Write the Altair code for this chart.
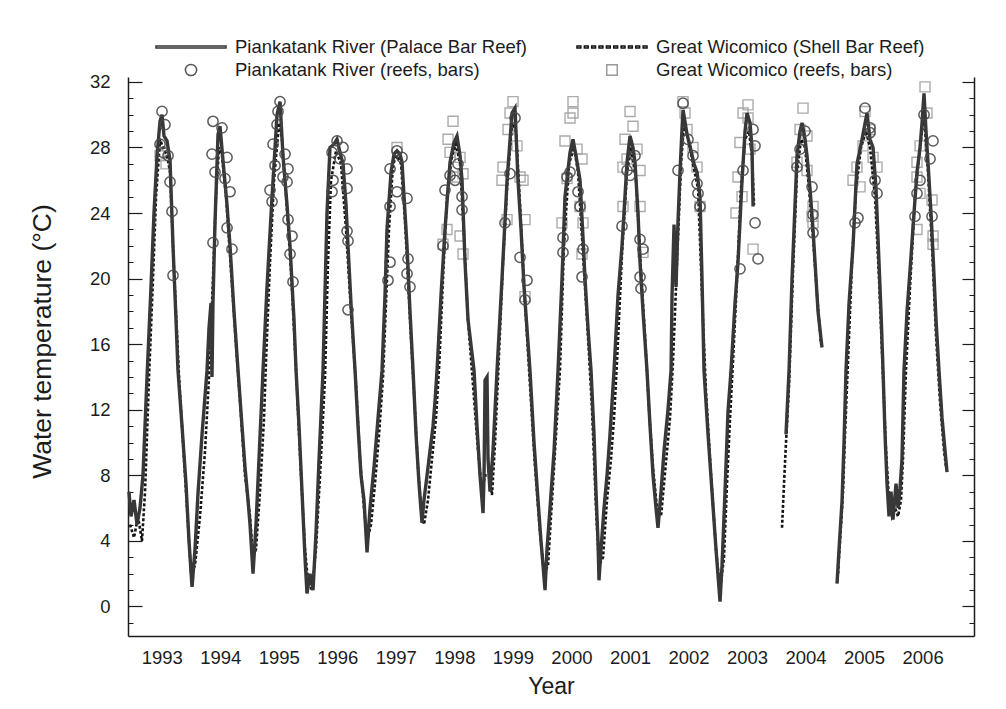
import altair as alt
import pandas as pd

FONT = "Liberation Sans"
W, H = 846, 559
X_DOMAIN = [1992.424, 2006.878]
Y_DOMAIN = [-1.8, 32.3]
YEARS = list(range(1993, 2007))
MAJOR = list(range(0, 33, 4))
MINOR = list(range(-1, 33))

# legend order (filled column by column: left column first)
KEYS = [
    "Piankatank River (Palace Bar Reef)",
    "Piankatank River (reefs, bars)",
    "Great Wicomico (Shell Bar Reef)",
    "Great Wicomico (reefs, bars)",
]

# Piankatank River (Palace Bar Reef) - continuous record, (decimal year, deg C)
PR_SEG_A = [
    (1992.441, 7.0), (1992.475, 5.5), (1992.527, 6.5), (1992.578, 5.0), (1992.629, 6.0), (1992.680, 8.0),
    (1992.749, 14.0), (1992.817, 19.5), (1992.868, 24.0), (1992.920, 27.5), (1992.971, 29.6), (1993.005, 30.0),
    (1993.039, 28.7), (1993.091, 28.4), (1993.142, 27.2), (1993.193, 22.0), (1993.244, 17.5), (1993.278, 14.4),
    (1993.347, 11.0), (1993.415, 7.5), (1993.466, 4.0), (1993.518, 1.2),
    (1993.569, 3.5), (1993.620, 6.9), (1993.689, 10.5), (1993.774, 14.4), (1993.808, 17.0), (1993.842, 18.5),
    (1993.859, 14.0), (1993.876, 18.5), (1993.911, 23.5), (1993.962, 28.8), (1993.996, 29.3), (1994.047, 27.2),
    (1994.116, 24.5), (1994.167, 22.0), (1994.235, 18.0), (1994.304, 14.4), (1994.372, 11.0), (1994.423, 8.5),
    (1994.474, 6.5), (1994.509, 5.0), (1994.560, 2.0),
    (1994.611, 5.0), (1994.662, 9.0), (1994.731, 14.4), (1994.799, 19.5), (1994.885, 25.0), (1994.970, 30.0),
    (1995.021, 30.8), (1995.072, 27.5), (1995.141, 24.5), (1995.192, 22.0), (1995.260, 17.5), (1995.295, 14.4),
    (1995.346, 11.0), (1995.397, 7.0), (1995.448, 3.0), (1995.482, 0.8),
    (1995.534, 2.0), (1995.585, 1.0), (1995.636, 4.5), (1995.688, 9.0), (1995.756, 14.4), (1995.824, 24.0),
    (1995.875, 28.0), (1995.944, 28.2), (1995.995, 28.5), (1996.046, 27.7), (1996.098, 27.0), (1996.149, 24.5),
    (1996.183, 22.0), (1996.234, 18.5), (1996.303, 14.4), (1996.354, 11.0), (1996.405, 8.0), (1996.456, 6.5),
    (1996.508, 3.3),
    (1996.559, 6.0), (1996.627, 8.5), (1996.696, 11.5), (1996.764, 14.4), (1996.815, 19.0), (1996.849, 23.0),
    (1996.918, 26.5), (1996.969, 27.6), (1997.020, 27.8), (1997.071, 27.6), (1997.106, 27.1), (1997.157, 24.0),
    (1997.191, 22.0), (1997.242, 18.0), (1997.294, 14.4), (1997.345, 10.5), (1997.396, 7.5), (1997.447, 5.1),
    (1997.481, 6.5), (1997.533, 8.0), (1997.584, 9.5), (1997.635, 11.0), (1997.669, 12.5), (1997.704, 14.4),
    (1997.772, 19.0), (1997.840, 23.0), (1997.926, 27.1), (1997.994, 28.3), (1998.045, 28.7), (1998.097, 27.5),
    (1998.131, 26.0), (1998.182, 21.0), (1998.233, 17.5), (1998.336, 14.4), (1998.387, 11.0), (1998.438, 8.0),
    (1998.490, 5.7),
    (1998.507, 8.0), (1998.524, 13.8), (1998.558, 14.0), (1998.575, 9.0), (1998.609, 7.0), (1998.660, 9.5),
    (1998.729, 14.4), (1998.814, 20.0), (1998.900, 26.0), (1998.985, 30.1), (1999.036, 30.4), (1999.087, 26.0),
    (1999.139, 23.0), (1999.190, 19.5), (1999.292, 14.4), (1999.361, 10.0), (1999.429, 6.5), (1999.480, 4.0),
    (1999.515, 2.5), (1999.549, 1.0),
    (1999.583, 3.5), (1999.634, 6.0), (1999.703, 9.5), (1999.771, 14.4), (1999.839, 20.0), (1999.890, 25.0),
    (1999.976, 27.7), (2000.027, 28.5), (2000.078, 27.5), (2000.147, 26.0), (2000.198, 22.5), (2000.232, 20.0),
    (2000.283, 17.0), (2000.335, 14.4), (2000.386, 10.5), (2000.420, 7.0), (2000.454, 4.0), (2000.471, 1.6),
    (2000.506, 3.5), (2000.557, 6.0), (2000.608, 8.0), (2000.659, 10.5), (2000.728, 14.4), (2000.796, 19.0),
    (2000.864, 22.0), (2000.950, 27.1), (2001.001, 28.7), (2001.052, 28.0), (2001.086, 27.1), (2001.138, 24.0),
    (2001.172, 21.0), (2001.223, 18.0), (2001.291, 14.4), (2001.343, 11.0), (2001.394, 8.0), (2001.445, 6.0),
    (2001.479, 4.8),
    (2001.531, 7.0), (2001.582, 9.5), (2001.650, 12.0), (2001.702, 14.4), (2001.719, 19.0), (2001.753, 23.3),
    (2001.787, 19.5), (2001.821, 23.5), (2001.855, 26.5), (2001.889, 29.1), (2001.907, 30.3), (2001.975, 28.8),
    (2002.026, 28.1), (2002.094, 27.0), (2002.146, 26.5), (2002.197, 25.0), (2002.231, 20.0), (2002.265, 14.4),
    (2002.334, 10.5), (2002.402, 7.0), (2002.470, 3.5), (2002.539, 0.3),
    (2002.573, 2.5), (2002.624, 7.0), (2002.675, 11.9), (2002.727, 14.4), (2002.795, 18.5), (2002.846, 21.0),
    (2002.915, 26.0), (2002.966, 29.0), (2003.000, 30.1), (2003.051, 29.5), (2003.085, 28.0), (2003.103, 24.4),
]
PR_SEG_B = [
    (2003.666, 10.5), (2003.718, 14.4), (2003.769, 20.0), (2003.854, 27.5), (2003.906, 29.0), (2003.940, 29.5),
    (2003.991, 28.5), (2004.025, 27.5), (2004.076, 25.5), (2004.128, 23.0), (2004.179, 20.0), (2004.213, 18.0),
    (2004.281, 15.8),
]
PR_SEG_C = [
    (2004.538, 1.4), (2004.572, 3.5), (2004.623, 6.4), (2004.657, 10.0), (2004.691, 14.4), (2004.743, 18.5),
    (2004.811, 22.0), (2004.879, 27.0), (2004.965, 28.5), (2005.050, 30.1), (2005.101, 28.5), (2005.153, 28.0),
    (2005.204, 25.5), (2005.238, 22.5), (2005.289, 18.0), (2005.324, 14.4), (2005.358, 10.5), (2005.392, 7.5),
    (2005.426, 5.5), (2005.460, 7.0), (2005.494, 5.3), (2005.546, 7.5), (2005.580, 6.0), (2005.614, 7.2),
    (2005.648, 9.0), (2005.682, 14.4), (2005.734, 18.0), (2005.785, 20.5), (2005.853, 24.0), (2005.904, 26.5),
    (2005.956, 28.0), (2005.990, 29.5), (2006.024, 31.3), (2006.058, 29.0), (2006.092, 27.1), (2006.144, 24.0),
    (2006.178, 21.5), (2006.229, 17.5), (2006.280, 14.4), (2006.332, 11.5), (2006.383, 9.5), (2006.417, 8.2),
]

# Great Wicomico (Shell Bar Reef) - continuous record
GW_SEG_A = [
    (1992.458, 5.0), (1992.527, 4.2), (1992.595, 5.5), (1992.663, 4.0), (1992.715, 7.0), (1992.783, 14.0),
    (1992.851, 20.0), (1992.903, 25.0), (1992.971, 28.5), (1993.022, 28.0), (1993.091, 27.5), (1993.142, 26.5),
    (1993.210, 20.5), (1993.296, 14.0), (1993.381, 9.0), (1993.449, 5.0), (1993.501, 2.0),
    (1993.569, 2.5), (1993.654, 5.5), (1993.740, 9.5), (1993.808, 14.0), (1993.876, 20.0), (1993.928, 25.0),
    (1993.979, 28.0), (1994.030, 27.5), (1994.099, 25.0), (1994.184, 20.5), (1994.269, 16.0), (1994.338, 12.5),
    (1994.423, 8.0), (1994.509, 5.5), (1994.560, 3.0),
    (1994.611, 3.5), (1994.679, 7.0), (1994.748, 11.5), (1994.782, 15.0), (1994.850, 21.0), (1994.919, 26.0),
    (1995.004, 29.5), (1995.055, 28.5), (1995.124, 25.0), (1995.209, 20.5), (1995.295, 14.5), (1995.380, 8.0),
    (1995.448, 3.5), (1995.500, 1.5),
    (1995.568, 1.0), (1995.636, 3.5), (1995.705, 8.0), (1995.790, 14.0), (1995.841, 21.0), (1995.893, 26.0),
    (1995.978, 27.8), (1996.063, 27.0), (1996.149, 23.0), (1996.234, 18.0), (1996.320, 13.5), (1996.388, 9.0),
    (1996.456, 6.0), (1996.508, 4.0),
    (1996.576, 5.0), (1996.644, 7.5), (1996.713, 10.5), (1996.781, 14.0), (1996.832, 18.5), (1996.883, 23.0),
    (1996.952, 27.0), (1997.020, 27.5), (1997.089, 27.0), (1997.157, 23.5), (1997.242, 17.5), (1997.311, 13.0),
    (1997.379, 8.5), (1997.430, 6.0),
    (1997.481, 5.0), (1997.550, 6.5), (1997.618, 9.0), (1997.686, 11.5), (1997.738, 14.5), (1997.806, 20.0),
    (1997.874, 25.0), (1997.960, 27.5), (1998.028, 28.2), (1998.097, 27.0), (1998.165, 22.5), (1998.233, 17.5),
    (1998.319, 13.5), (1998.404, 9.5), (1998.472, 7.0),
    (1998.524, 8.0), (1998.592, 8.0), (1998.643, 6.8), (1998.695, 10.0), (1998.746, 14.0), (1998.831, 21.0),
    (1998.900, 25.5), (1998.985, 29.5), (1999.053, 29.0), (1999.122, 24.5), (1999.207, 18.5), (1999.292, 13.5),
    (1999.378, 8.5), (1999.463, 4.5), (1999.532, 2.0),
    (1999.600, 2.5), (1999.651, 5.5), (1999.703, 8.5), (1999.754, 11.5), (1999.805, 14.5), (1999.873, 22.0),
    (1999.959, 27.0), (2000.044, 28.0), (2000.113, 26.5), (2000.198, 21.5), (2000.283, 16.5), (2000.352, 12.0),
    (2000.420, 6.0), (2000.471, 2.5),
    (2000.540, 3.0), (2000.608, 6.5), (2000.676, 9.0), (2000.728, 11.5), (2000.779, 15.0), (2000.864, 21.5),
    (2000.950, 26.5), (2001.018, 28.0), (2001.104, 26.0), (2001.172, 21.5), (2001.257, 16.5), (2001.326, 12.0),
    (2001.394, 8.5), (2001.462, 6.0),
    (2001.531, 5.5), (2001.582, 7.5), (2001.633, 9.5), (2001.684, 11.5), (2001.736, 15.0), (2001.804, 21.0),
    (2001.872, 27.0), (2001.924, 29.5), (2001.992, 28.5), (2002.077, 27.0), (2002.163, 25.5), (2002.231, 19.0),
    (2002.300, 13.0), (2002.385, 8.0), (2002.470, 3.5), (2002.539, 1.0),
    (2002.607, 3.0), (2002.658, 7.5), (2002.710, 11.5), (2002.761, 15.0), (2002.829, 20.0), (2002.897, 25.5),
    (2002.966, 28.5), (2003.034, 29.0), (2003.085, 27.5), (2003.120, 24.5),
]
GW_SEG_B = [
    (2003.598, 4.8), (2003.632, 7.5), (2003.666, 10.0), (2003.718, 13.5), (2003.786, 20.5), (2003.854, 26.5),
    (2003.923, 28.5), (2003.991, 28.0), (2004.059, 25.5), (2004.128, 22.5), (2004.196, 19.0), (2004.264, 16.0),
]
GW_SEG_C = [
    (2004.555, 2.0), (2004.589, 4.0), (2004.640, 7.0), (2004.674, 10.5), (2004.726, 15.0), (2004.794, 21.0),
    (2004.862, 25.5), (2004.948, 28.0), (2005.033, 29.0), (2005.101, 28.0), (2005.187, 25.0), (2005.255, 20.0),
    (2005.324, 14.0), (2005.375, 9.5), (2005.426, 6.5), (2005.477, 5.5), (2005.529, 6.0), (2005.580, 5.5),
    (2005.631, 6.5), (2005.665, 9.0), (2005.717, 14.5), (2005.785, 19.5), (2005.870, 25.0), (2005.956, 28.0),
    (2006.024, 30.0), (2006.092, 26.5), (2006.161, 22.0), (2006.229, 16.5), (2006.297, 12.5), (2006.366, 9.5),
    (2006.400, 8.5),
]

# Piankatank River reefs and bars (circles)
PR_REEFS = [
    (1993.005, 30.2), (1993.056, 29.4), (1992.971, 28.2), (1993.022, 27.7), (1993.108, 27.5), (1993.142, 25.9),
    (1993.176, 24.1), (1993.193, 20.2),
    (1993.876, 29.6), (1994.030, 29.2), (1993.859, 27.6), (1994.116, 27.4), (1993.911, 26.5), (1994.081, 26.1),
    (1994.167, 25.3), (1994.116, 23.1), (1993.876, 22.2), (1994.201, 21.8),
    (1995.021, 30.8), (1994.987, 30.2), (1994.970, 29.4), (1994.902, 28.2), (1995.107, 27.6), (1994.936, 26.9),
    (1995.158, 26.7), (1995.072, 26.2), (1995.141, 25.9), (1994.850, 25.4), (1994.885, 24.7), (1995.158, 23.6),
    (1995.226, 22.6), (1995.192, 21.5), (1995.243, 19.8),
    (1995.995, 28.4), (1995.910, 27.7), (1996.098, 28.0), (1996.046, 27.3), (1996.166, 26.7), (1995.927, 26.0),
    (1996.166, 25.5), (1995.910, 25.3), (1996.166, 22.9), (1996.183, 22.3), (1996.183, 18.1),
    (1997.020, 27.8), (1997.106, 27.4), (1996.901, 26.7), (1997.020, 25.3), (1997.191, 24.9), (1996.901, 24.4),
    (1996.901, 21.0), (1996.866, 19.9), (1997.208, 21.2), (1997.191, 20.3), (1997.242, 19.5),
    (1997.840, 25.4), (1997.926, 26.3), (1998.131, 25.0), (1998.131, 24.2), (1998.011, 26.0), (1997.806, 22.0),
    (1998.062, 27.0),
    (1998.951, 26.4), (1998.865, 23.4), (1999.122, 21.3), (1999.241, 19.9), (1999.207, 18.7), (1999.036, 29.8),
    (1999.925, 26.2), (2000.113, 25.3), (2000.147, 24.4), (1999.856, 22.5), (1999.856, 21.6), (2000.198, 21.8),
    (2000.181, 20.1), (1999.976, 26.5),
    (2000.864, 23.2), (2001.172, 22.4), (2001.223, 21.8), (2001.172, 20.1), (2001.189, 19.4), (2000.950, 26.6),
    (2001.001, 26.3), (2001.086, 27.5),
    (2001.907, 30.7), (2001.821, 26.6), (2002.146, 25.8), (2002.163, 25.2), (2002.197, 24.4), (2001.992, 28.5),
    (2002.077, 27.5),
    (2003.103, 29.1), (2003.137, 28.1), (2003.137, 23.4), (2003.188, 21.2), (2002.880, 20.6), (2002.932, 26.6),
    (2003.854, 26.8), (2003.906, 27.9), (2004.111, 25.6), (2004.128, 23.9), (2004.128, 22.8), (2003.991, 29.0),
    (2005.016, 30.4), (2005.101, 29.2), (2005.101, 28.9), (2005.187, 26.0), (2005.221, 25.2), (2004.896, 23.7),
    (2004.845, 23.4),
    (2006.178, 28.4), (2006.127, 27.3), (2005.904, 25.2), (2005.870, 23.8), (2006.161, 23.8), (2006.024, 30.0),
    (2005.956, 26.0),
]

# Great Wicomico reefs and bars (squares)
GW_REEFS = [
    (1992.971, 27.5), (1993.073, 27.0), (1997.020, 28.0),
    (1997.977, 29.6), (1997.892, 28.5), (1997.926, 27.7), (1998.097, 27.4), (1998.148, 26.4), (1998.045, 26.2),
    (1997.874, 23.0), (1998.097, 22.6), (1997.806, 22.1), (1998.148, 21.5),
    (1999.002, 30.8), (1998.951, 30.1), (1998.917, 29.1), (1999.070, 28.1), (1998.831, 26.8), (1999.122, 26.2),
    (1999.173, 26.0), (1998.814, 26.0), (1998.900, 23.6), (1999.207, 23.6), (1999.207, 18.9),
    (2000.027, 30.8), (2000.027, 30.1), (1999.976, 29.8), (1999.890, 28.4), (2000.096, 27.9), (2000.181, 27.3),
    (1999.925, 26.1), (2000.147, 24.4), (2000.198, 23.4), (1999.839, 23.4), (2000.181, 21.5),
    (2001.001, 30.2), (2001.052, 29.3), (2000.916, 28.5), (2001.121, 27.9), (2000.950, 27.3), (2001.172, 26.6),
    (2000.881, 26.8), (2000.881, 24.4), (2001.172, 24.4), (2001.223, 21.6),
    (2001.907, 30.8), (2001.941, 30.1), (2001.975, 29.1), (2002.146, 26.8), (2002.197, 24.4), (2002.077, 28.0),
    (2003.017, 30.6), (2002.932, 30.1), (2003.017, 29.8), (2002.880, 28.3), (2003.051, 27.9), (2002.846, 26.2),
    (2002.915, 25.0), (2003.103, 21.8), (2002.812, 24.0),
    (2003.957, 30.4), (2003.906, 29.1), (2004.025, 28.7), (2003.854, 27.1), (2004.025, 26.6), (2004.128, 24.4),
    (2004.111, 23.8), (2004.128, 23.4),
    (2005.016, 30.2), (2005.101, 29.1), (2004.982, 28.1), (2005.153, 27.4), (2004.879, 26.8), (2005.221, 26.8),
    (2004.811, 26.0), (2004.931, 25.6),
    (2006.041, 31.7), (2006.075, 30.1), (2005.956, 28.1), (2005.904, 27.1), (2005.904, 26.2), (2005.956, 25.2),
    (2005.904, 23.0), (2006.178, 22.6), (2006.178, 22.1), (2006.161, 24.8),
]


def line_frame(segments):
    rows = []
    for i, seg in enumerate(segments):
        for yr, t in seg:
            rows.append({"year": yr, "temp": t, "seg": i})
    return pd.DataFrame(rows)


def point_frame(points):
    return pd.DataFrame([{"year": yr, "temp": t} for yr, t in points])


pr_line = line_frame([PR_SEG_A, PR_SEG_B, PR_SEG_C])
gw_line = line_frame([GW_SEG_A, GW_SEG_B, GW_SEG_C])
pr_pts = point_frame(PR_REEFS)
gw_pts = point_frame(GW_REEFS)
legend_df = pd.DataFrame({"key": KEYS, "year": [None] * 4, "temp": [None] * 4})

XS = alt.Scale(domain=X_DOMAIN, nice=False, zero=False)
YS = alt.Scale(domain=Y_DOMAIN, nice=False, zero=False)
INK = "#1c1c1c"

X_AXIS = alt.Axis(values=YEARS, format="d", ticks=False, grid=False, domainColor=INK, domainWidth=1.5,
                  labelFont=FONT, labelFontSize=18.5, labelColor=INK, labelPadding=12, labelFlush=False,
                  labelOverlap=False, title="Year", titleFont=FONT, titleFontSize=23, titleFontWeight="normal",
                  titleColor=INK, titlePadding=9)


def xenc():
    return alt.X("year:Q", scale=XS, axis=X_AXIS)


ax_left = alt.Axis(orient="left", values=MAJOR, ticks=False, grid=False, domainColor=INK, domainWidth=1.5,
                   labelFont=FONT, labelFontSize=18.5, labelColor=INK, labelPadding=18,
                   title="Water temperature (°C)", titleFont=FONT, titleFontSize=26.5, titleFontWeight="normal",
                   titleColor=INK, titlePadding=33, titleY=264)
ax_in_major_l = alt.Axis(orient="right", offset=-W, values=MAJOR, tickSize=14, tickColor=INK, tickWidth=1.2,
                         labels=False, domain=False, grid=False, title=None)
ax_in_minor_l = alt.Axis(orient="right", offset=-W, values=MINOR, tickSize=5, tickColor=INK, tickWidth=1,
                         labels=False, domain=False, grid=False, title=None)
ax_in_major_r = alt.Axis(orient="left", offset=-W, values=MAJOR, tickSize=12, tickColor=INK, tickWidth=1.2,
                         labels=False, domain=True, domainColor=INK, domainWidth=1.5, grid=False, title=None)
ax_in_minor_r = alt.Axis(orient="left", offset=-W, values=MINOR, tickSize=5, tickColor=INK, tickWidth=1,
                         labels=False, domain=False, grid=False, title=None)

squares = alt.Chart(gw_pts).mark_point(
    shape="square", filled=False, size=100, strokeWidth=1.4, color="#a3a3a3", opacity=0.9
).encode(x=xenc(), y=alt.Y("temp:Q", scale=YS, axis=ax_left))

gw = alt.Chart(gw_line).mark_line(color="#141414", strokeWidth=2.6, strokeDash=[3, 2]).encode(
    x=xenc(), y=alt.Y("temp:Q", scale=YS, axis=ax_in_major_l), detail="seg:N"
)

pr = alt.Chart(pr_line).mark_line(color="#383838", strokeWidth=3.4).encode(
    x=xenc(), y=alt.Y("temp:Q", scale=YS, axis=ax_in_minor_l), detail="seg:N"
)

circles = alt.Chart(pr_pts).mark_point(
    shape="circle", filled=False, size=105, strokeWidth=1.5, color="#4a4a4a", opacity=0.9
).encode(x=xenc(), y=alt.Y("temp:Q", scale=YS, axis=ax_in_major_r))

LINE_PATH = "M-1,-0.03H1V0.03H-1Z"
DOTTED_PATH = "".join(f"M{-1 + i * 0.21:.2f},-0.03h0.11v0.06h-0.11Z" for i in range(10))
CIRCLE_PATH = "M0.16,0A0.16,0.16,0,1,1,-0.16,0A0.16,0.16,0,1,1,0.16,0Z"
SQUARE_PATH = "M-0.15,-0.15H0.15V0.15H-0.15Z"

leg = alt.Legend(title=None, orient="none", legendX=27, legendY=-40, columns=2, columnPadding=48,
                 rowPadding=3, labelOffset=8, symbolSize=4900, symbolStrokeWidth=1.5, clipHeight=20,
                 labelFont=FONT, labelFontSize=18.5, labelColor=INK, padding=0, labelLimit=400)

legend_layer = alt.Chart(legend_df).mark_point(filled=False, strokeWidth=1.5, opacity=1, size=4900).encode(
    x=xenc(),
    y=alt.Y("temp:Q", scale=YS, axis=ax_in_minor_r),
    color=alt.Color("key:N", scale=alt.Scale(domain=KEYS, range=["#333333", "#555555", "#111111", "#9a9a9a"]),
                    legend=leg),
    shape=alt.Shape("key:N", scale=alt.Scale(domain=KEYS, range=[LINE_PATH, CIRCLE_PATH, DOTTED_PATH, SQUARE_PATH]),
                    legend=leg),
)

chart = (
    alt.layer(squares, gw, pr, circles, legend_layer)
    .resolve_axis(y="independent")
    .properties(width=W, height=H, padding={"left": 21, "top": 29, "right": 5, "bottom": 5}, background="white")
    .configure_view(stroke=None)
)

chart.save("out.html", embed_options={"renderer": "svg", "actions": False})
